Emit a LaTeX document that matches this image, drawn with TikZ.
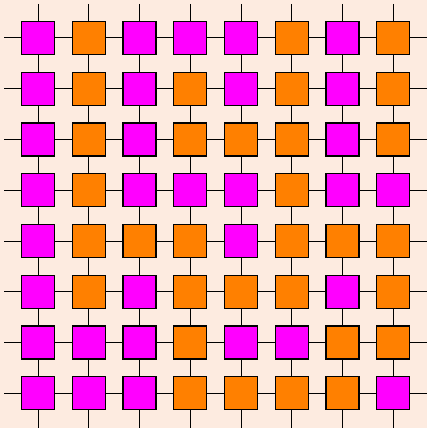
\documentclass[tikz,border=0pt]{standalone}
\usepackage{xcolor}
\usepackage{tikz}
\usetikzlibrary{positioning}

\definecolor{bgpeach}{RGB}{253,235,224}
\definecolor{cellm}{RGB}{255,0,255}
\definecolor{cello}{RGB}{255,128,0}

\begin{document}
\begin{tikzpicture}[
		x=1pt, y=-1pt,
		cell/.style={rectangle, draw, line width=1.2pt, minimum size=33pt, inner sep=0pt},
		link/.style={line width=1pt}
		]

		\fill[bgpeach] (0,0) rectangle (427,428);
		\useasboundingbox (0,0) rectangle (427,428);

		% the 8x8 cells, row by row
		\foreach \row [count=\r] in {{m,o,m,m,m,o,m,o},{m,o,m,o,m,o,m,o},{m,o,m,o,o,o,m,o},{m,o,m,m,m,o,m,m},{m,o,o,o,m,o,o,o},{m,o,m,o,o,o,m,o},{m,m,m,o,m,m,o,o},{m,m,m,o,o,o,o,m}} {
			\foreach \c [count=\k] in \row {
				\node[cell, fill=cell\c] (sq-\r-\k) at ({38+50.75*(\k-1)}, {38+50.75*(\r-1)}) {};
			}
		}

		% free ends at the border
		\foreach \i in {1,...,8} {
			\coordinate (w-\i) at (4, {38+50.75*(\i-1)});
			\coordinate (e-\i) at (427, {38+50.75*(\i-1)});
			\coordinate (n-\i) at ({38+50.75*(\i-1)}, 4);
			\coordinate (s-\i) at ({38+50.75*(\i-1)}, 428);
			\draw[link] (w-\i) -- (sq-\i-1);
			\draw[link] (sq-\i-8) -- (e-\i);
			\draw[link] (n-\i) -- (sq-1-\i);
			\draw[link] (sq-8-\i) -- (s-\i);
		}

		% links between neighbours
		\foreach \i in {1,...,8} {
			\foreach \k [evaluate=\k as \n using int(\k+1)] in {1,...,7} {
				\draw[link] (sq-\i-\k) -- (sq-\i-\n);
				\draw[link] (sq-\k-\i) -- (sq-\n-\i);
			}
		}
	\end{tikzpicture}
\end{document}
